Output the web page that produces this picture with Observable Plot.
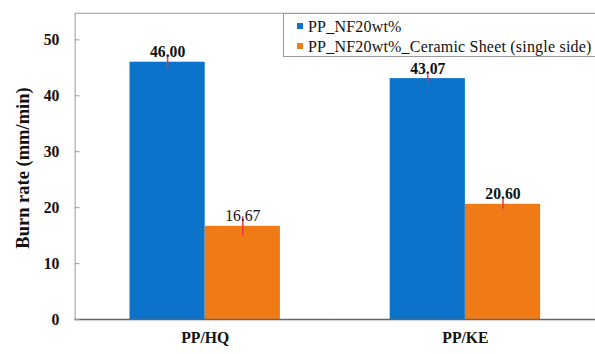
<!DOCTYPE html>
<html>
<head>
<meta charset="utf-8">
<script src="https://cdn.jsdelivr.net/npm/d3@7"></script>
<script src="https://cdn.jsdelivr.net/npm/@observablehq/plot@0.6"></script>
<style>
  html, body { margin: 0; padding: 0; background: #fff; }
  #wrap { position: relative; width: 595px; height: 354px; overflow: hidden; }
  #legend { position: absolute; left: 283px; top: 13px; width: 340px; height: 44px;
    border: 1px solid #999; background: #fff; font-family: "Liberation Serif", "Times New Roman", "DejaVu Serif", serif;
    font-size: 16px; letter-spacing: 0.2px; color: #111; box-sizing: border-box; }
  .item { position: absolute; left: 13px; white-space: nowrap; line-height: 20px; }
  .sw { display: inline-block; width: 6px; height: 6px; margin-right: 5px; vertical-align: 3px; }
  #ytitle { position: absolute; left: 23px; top: 168px; transform: translate(-50%, -50%) rotate(-90deg);
    white-space: nowrap; font-family: "Liberation Serif", "Times New Roman", "DejaVu Serif", serif;
    font-size: 18.5px; font-weight: bold; color: #111; }
  #chart svg text { font-family: "Liberation Serif", "Times New Roman", "DejaVu Serif", serif; }
</style>
</head>
<body>
<div id="wrap"><div id="chart"></div><div id="legend"></div><div id="ytitle"></div></div>
<script>
const categories = ["PP/HQ", "PP/KE"];
const series = ["PP_NF20wt%", "PP_NF20wt%_Ceramic Sheet (single side)"];
const valuesSeries1 = [46.00, 43.07];
const valuesSeries2 = [16.67, 20.60];
const errorSeries1 = [1.0, 0.7];
const errorSeries2 = [1.7, 0.9];
const yTicks = [0, 10, 20, 30, 40, 50];
const yTitle = "Burn rate (mm/min)";
const colors = ["#0b73ca", "#f07a16"];

const rows = [];
categories.forEach((c, i) => {
  rows.push({cat: c, series: series[0], value: valuesSeries1[i], err: errorSeries1[i]});
  rows.push({cat: c, series: series[1], value: valuesSeries2[i], err: errorSeries2[i]});
});

const chart = Plot.plot({
  width: 606,
  height: 354,
  marginLeft: 75,
  marginRight: 0,
  marginTop: 13,
  marginBottom: 29,
  style: {fontFamily: "'Liberation Serif', 'Times New Roman', serif", fontWeight: "bold", color: "#111", background: "#fff"},
  fx: {domain: categories, padding: 0, label: null},
  x: {domain: series, paddingInner: 0, paddingOuter: 0.73, round: false, axis: null},
  y: {domain: [0, 54.75]},
  color: {domain: series, range: colors},
  marks: [
    Plot.frame({facet: "super", stroke: "#999"}),
    Plot.barY(rows, {fx: "cat", x: "series", y: "value", fill: "series"}),
    Plot.ruleX(rows, {fx: "cat", x: "series", y1: d => d.value - d.err, y2: d => d.value + d.err, stroke: "#e8333c", strokeWidth: 1.5}),
    Plot.text(rows.filter(d => d.value !== 16.67), {fx: "cat", x: "series", y: "value", text: d => d.value.toFixed(2), dy: -5, lineAnchor: "bottom", fontSize: 16, fontWeight: "bold", fill: "#111"}),
    Plot.text(rows.filter(d => d.value === 16.67), {fx: "cat", x: "series", y: "value", text: d => d.value.toFixed(2), dy: -5, lineAnchor: "bottom", fontSize: 16, fontWeight: "normal", fill: "#111"}),
    Plot.ruleY([0], {stroke: "#666", strokeWidth: 1.5}),
    Plot.axisY({ticks: yTicks, tickSize: 5, dx: 5, tickPadding: 16, fontSize: 16, stroke: "#999", label: null}),
    Plot.axisFx({anchor: "bottom", tickSize: 0, tickPadding: 12, fontSize: 16, label: null})
  ]
});
document.getElementById("chart").appendChild(chart);
document.getElementById("ytitle").textContent = yTitle;

const legend = document.getElementById("legend");
series.forEach((s, i) => {
  const item = document.createElement("div");
  item.className = "item";
  item.style.top = (3 + i * 20) + "px";
  const sw = document.createElement("span");
  sw.className = "sw";
  sw.style.background = colors[i];
  item.appendChild(sw);
  item.appendChild(document.createTextNode(s));
  legend.appendChild(item);
});
</script>
</body>
</html>
